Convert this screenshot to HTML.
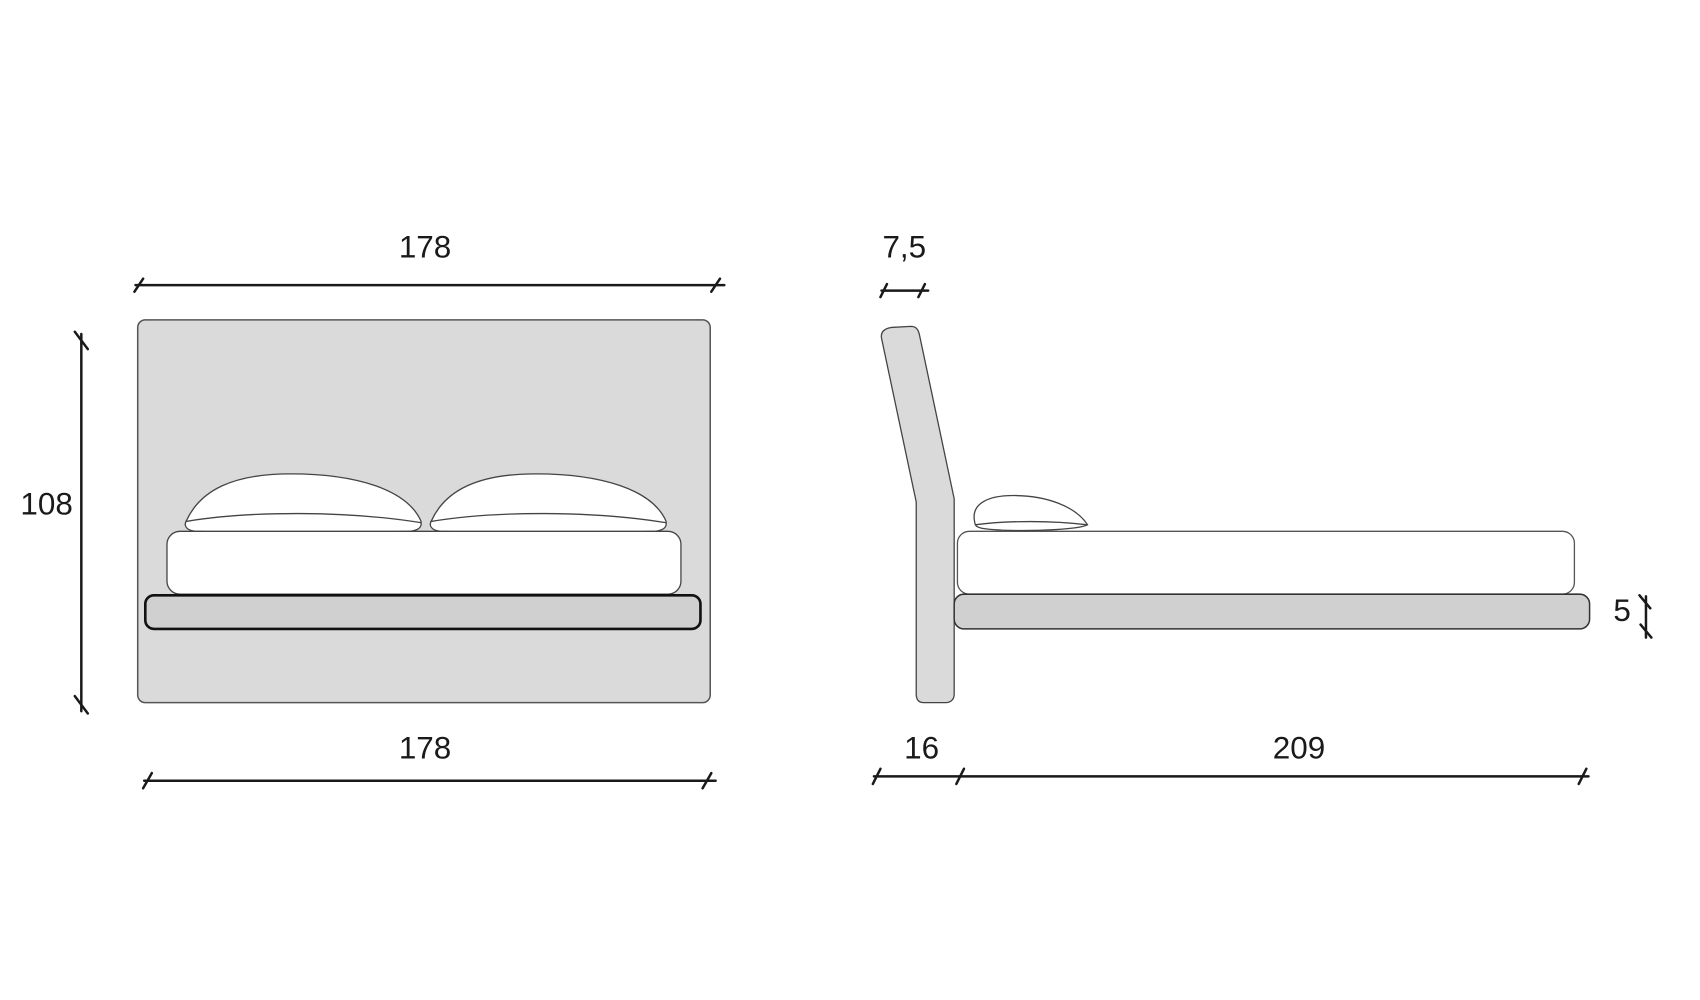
<!DOCTYPE html>
<html><head><meta charset="utf-8"><style>
html,body{margin:0;padding:0;background:#fff;width:1700px;height:1000px;overflow:hidden}
svg text{font-family:"Liberation Sans",sans-serif;font-size:29px;fill:#1a1a1a;text-anchor:middle;dominant-baseline:central}
</style></head><body>
<svg width="1700" height="1000" viewBox="0 0 1700 1000" xmlns="http://www.w3.org/2000/svg">
<g transform="scale(1.0843)">
<g stroke="#1a1a1a" stroke-width="2.3" fill="none" stroke-linecap="round">
<line x1="125" y1="263" x2="668" y2="263"/>
<line x1="124" y1="269" x2="132" y2="257"/><line x1="656" y1="269" x2="664" y2="257"/>
<line x1="75" y1="308" x2="75" y2="656"/>
<line x1="69" y1="306" x2="81" y2="322"/><line x1="69" y1="642" x2="81" y2="658"/>
<line x1="133" y1="720" x2="660" y2="720"/>
<line x1="132" y1="727" x2="140" y2="713"/><line x1="648" y1="727" x2="656" y2="713"/>
<line x1="813" y1="268" x2="856" y2="268"/>
<line x1="812" y1="274" x2="818" y2="262"/><line x1="847" y1="274" x2="853" y2="262"/>
<line x1="806" y1="716" x2="1465" y2="716"/>
<line x1="805" y1="723" x2="812" y2="709"/><line x1="882" y1="723" x2="889" y2="709"/><line x1="1456" y1="723" x2="1463" y2="709"/>
<line x1="1518" y1="550" x2="1518" y2="588"/>
<line x1="1512" y1="549" x2="1522" y2="561"/><line x1="1513" y1="576" x2="1523" y2="588"/>
</g>
<rect x="127" y="295" width="528" height="353" rx="7" fill="#dadada" stroke="#555" stroke-width="1.4"/>
<g fill="#fff" stroke="#444" stroke-width="1.2">
<path d="M172,480 C185,452 215,437 268,437 C330,437 375,452 388,480 C390,487 385,489 378,490 C310,492 240,492 180,490 C172,489 169,485 172,480 Z"/>
<path d="M171,481 C230,471 320,471 388,482" fill="none"/>
<path d="M398,480 C411,452 441,437 494,437 C556,437 601,452 614,480 C616,487 611,489 604,490 C536,492 466,492 406,490 C398,489 395,485 398,480 Z"/>
<path d="M397,481 C456,471 546,471 614,482" fill="none"/>
<rect x="154" y="490" width="474" height="58" rx="12"/>
</g>
<rect x="134" y="549" width="512" height="31" rx="8" fill="#d0d0d0" stroke="#111" stroke-width="2.4"/>
<path d="M813,312 C812,306 816,303 822,302 L840,301 C845,301 847,304 848,309 L880,460 L880,640 C880,645 877,648 872,648 L852,648 C847,648 845,645 845,640 L845,463 Z" fill="#dadada" stroke="#444" stroke-width="1.2"/>
<rect x="883" y="490" width="569" height="58" rx="11" fill="#fff" stroke="#555" stroke-width="1.2"/>
<path d="M899,482 C895,465 910,457 935,457 C965,457 992,467 1003,484 C995,488 960,490 925,489 C905,488 899,487 899,482 Z" fill="#fff" stroke="#444" stroke-width="1.2"/>
<path d="M899,484 C930,480 970,480 1003,484" fill="none" stroke="#444" stroke-width="1.2"/>
<rect x="880" y="548" width="586" height="32" rx="9" fill="#d0d0d0" stroke="#333" stroke-width="1.4"/>
<text x="392" y="228">178</text>
<text x="43" y="465">108</text>
<text x="392" y="690">178</text>
<text x="834" y="228">7,5</text>
<text x="850" y="690">16</text>
<text x="1198" y="690">209</text>
<text x="1496" y="563">5</text>
</g>
</svg>
</body></html>
